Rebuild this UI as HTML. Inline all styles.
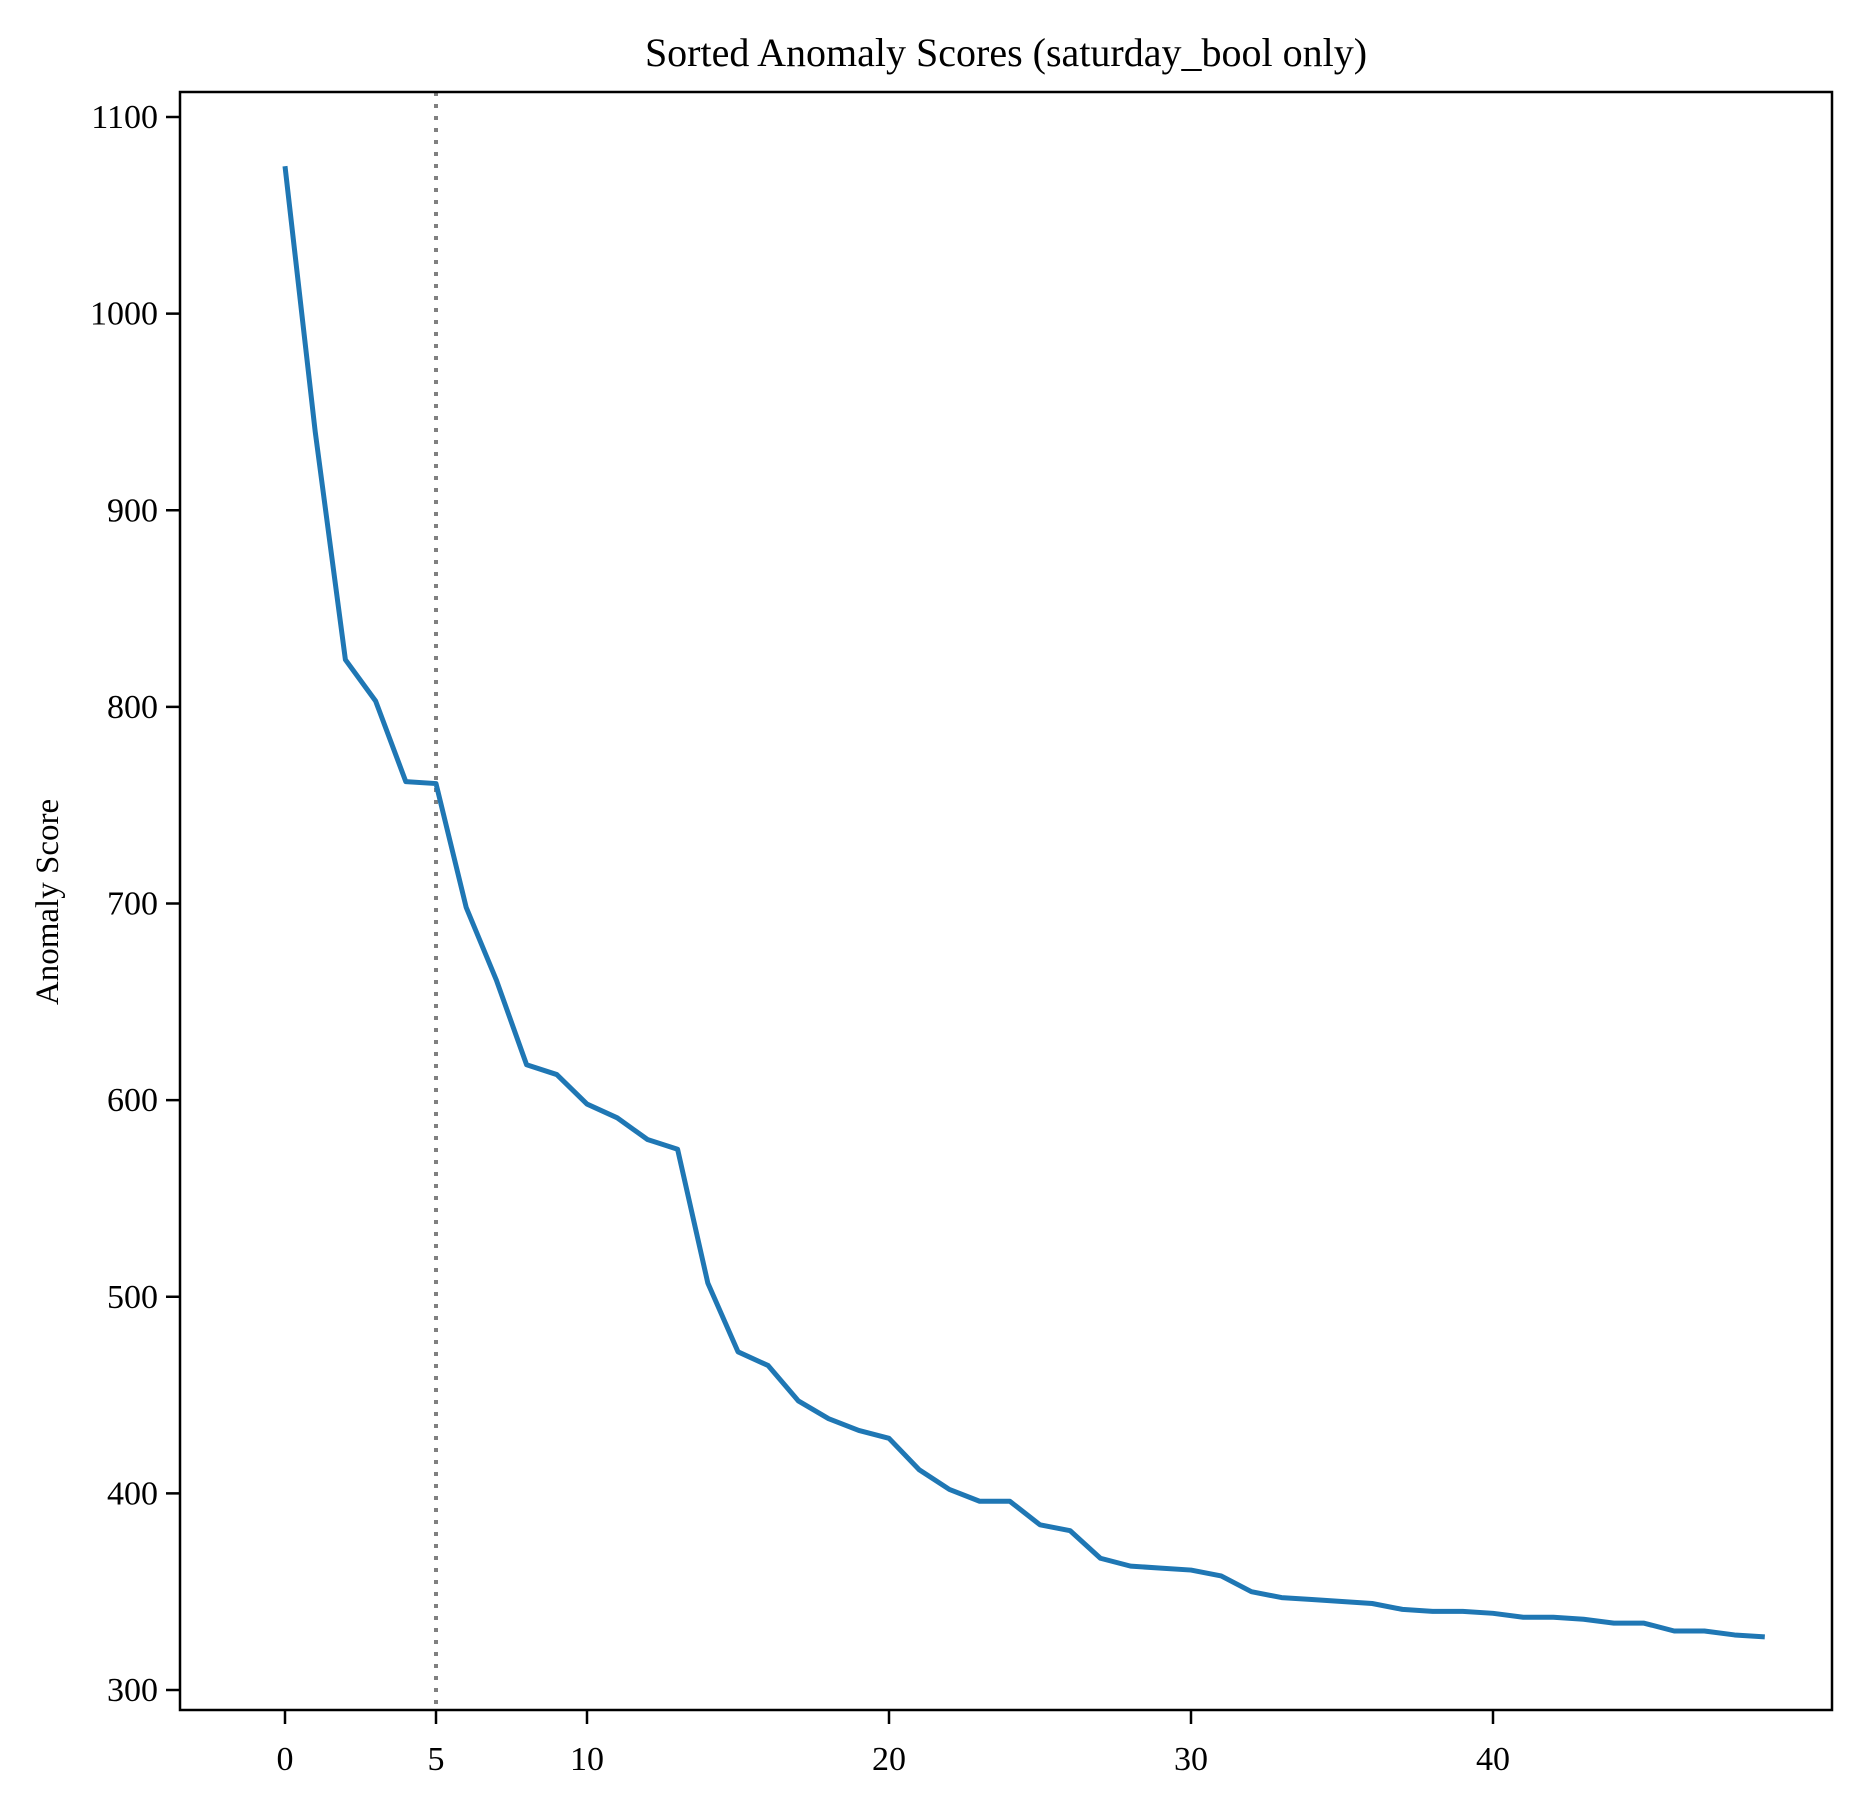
<!DOCTYPE html>
<html><head><meta charset="utf-8"><style>
body{margin:0;background:#fff;}
svg{display:block;font-family:"Liberation Serif",serif;}
</style></head><body>
<svg id="chart" width="1869" height="1810" viewBox="0 0 1869 1810">
<text x="1006" y="66" font-size="40" text-anchor="middle">Sorted Anomaly Scores (saturday_bool only)</text>
<text transform="translate(58,902) rotate(-90)" font-size="33" text-anchor="middle">Anomaly Score</text>
<g id="plot"></g>
<rect x="180" y="92" width="1652" height="1618" fill="none" stroke="#000" stroke-width="2.5"/>
</svg>
<script>
const indices = Array.from({length:50},(_, i)=>i);
const scores = [1075,940,824,803,762,761,698,661,618,613,598,591,580,575,507,472,465,447,438,432,428,412,402,396,396,384,381,367,363,362,361,358,350,347,346,345,344,341,340,340,339,337,337,336,334,334,330,330,328,327];
const yTicks = [300,400,500,600,700,800,900,1000,1100];
const xTicks = [0,5,10,20,30,40];
const thresholdIndex = 5;

const L=180,R=1832,T=92,B=1710;
const sx = v => 285 + (v-0)*(1493-285)/40;
const sy = v => 117 + (1100-v)*(1690-117)/800;
const ns="http://www.w3.org/2000/svg";
const g=document.getElementById('plot');
function mk(tag,attrs){const e=document.createElementNS(ns,tag);for(const k in attrs)e.setAttribute(k,attrs[k]);g.appendChild(e);return e;}

yTicks.forEach(t=>{
  const y=sy(t);
  const tk=mk('line',{x1:L-14,x2:L,y1:y,y2:y,stroke:'#000','stroke-width':2.5});
  
  
  const lb=mk('text',{x:L-22,y:y+11,'font-size':34,'text-anchor':'end'});
  lb.textContent=t;
  
  
});
xTicks.forEach(t=>{
  const x=sx(t);
  const tk=mk('line',{x1:x,x2:x,y1:B,y2:B+14,stroke:'#000','stroke-width':2.5});
  
  
  const lb=mk('text',{x:x,y:B+60,'font-size':34,'text-anchor':'middle'});
  lb.textContent=t;
  
  
});
const vl=mk('line',{x1:sx(thresholdIndex),x2:sx(thresholdIndex),y1:T,y2:B,stroke:'#808080','stroke-width':4,'stroke-dasharray':'4,8'});


const pts=scores.map((v,i)=>sx(indices[i])+','+sy(v)).join(' ');
const pl=mk('polyline',{points:pts,fill:'none',stroke:'#1f77b4','stroke-width':5,'stroke-linejoin':'round'});


</script>
</body></html>
